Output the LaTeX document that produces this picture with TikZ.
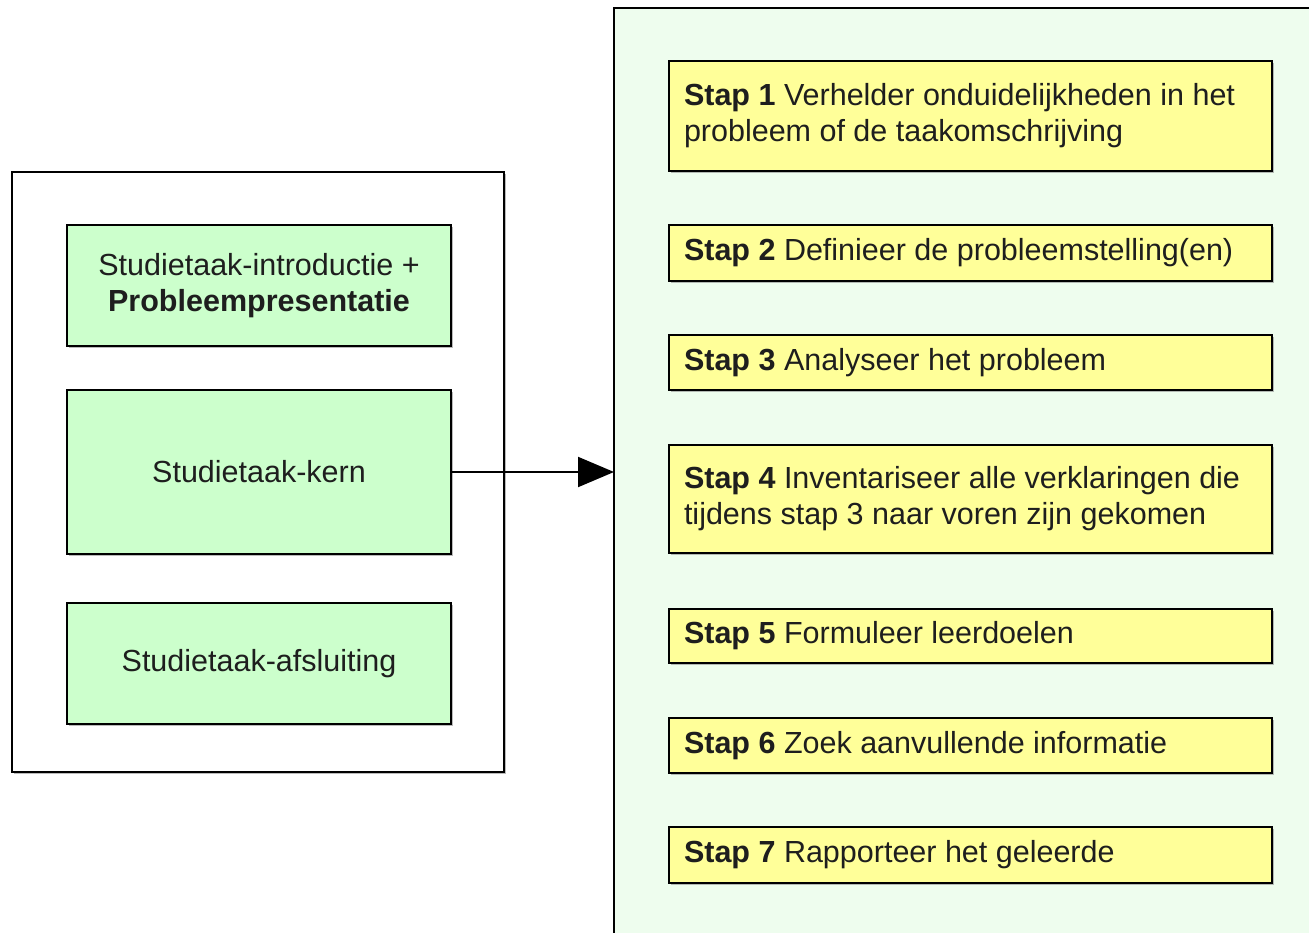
\documentclass[tikz,border=0pt]{standalone}
\usepackage{fontspec}
\setmainfont{Liberation Sans}
\usetikzlibrary{arrows.meta,shadows}
\definecolor{panelbg}{HTML}{EEFDEE}
\definecolor{greenbox}{HTML}{CCFFCC}
\definecolor{yellowbox}{HTML}{FFFF99}
\definecolor{txt}{HTML}{1E1E1E}
\tikzset{
  frame/.style={draw=black, line width=1.6pt, outer sep=0pt, inner sep=0pt,
    drop shadow={shadow xshift=1.5pt, shadow yshift=-2pt, fill=black!45, opacity=0.6}},
  phase/.style={frame, fill=greenbox, minimum width=384pt, text=txt,
    align=center, font=\fontsize{30.5}{36}\selectfont},
  stepbox/.style={frame, fill=yellowbox, text width=573pt, inner xsep=15pt,
    align=flush left, text=txt, font=\fontsize{30.5}{36}\selectfont},
  link/.style={draw=black, line width=2pt, -{Triangle[length=36pt,width=30pt]}}
}
\begin{document}
\begin{tikzpicture}[x=1pt, y=-1pt]
\useasboundingbox (0,0) rectangle (1309,933);
\fill[white] (0,0) rectangle (1309,933);
% right panel holding the seven steps
\node[frame, fill=panelbg, minimum width=716pt, minimum height=952pt] (panel) at (972,484) {};
% left frame with the three phases
\node[frame, fill=white, minimum width=492pt, minimum height=600pt] (outer) at (258,472) {};
\node[phase, minimum height=121pt] (intro) at (259,285.5) {Studietaak-introductie +\\\textbf{Probleempresentatie}};
\node[phase, minimum height=164pt] (kern) at (259,472) {Studietaak-kern};
\node[phase, minimum height=121pt] (afsl) at (259,663.5) {Studietaak-afsluiting};
% steps
\node[stepbox, minimum height=110pt] (s1) at (970.5,116) {\textbf{Stap 1} Verhelder onduidelijkheden in het\\probleem of de taakomschrijving};
\node[stepbox, minimum height=56pt] (s2) at (970.5,253) {\textbf{Stap 2} Definieer de probleemstelling(en)};
\node[stepbox, minimum height=55pt] (s3) at (970.5,362.5) {\textbf{Stap 3} Analyseer het probleem};
\node[stepbox, minimum height=108pt] (s4) at (970.5,499) {\textbf{Stap 4} Inventariseer alle verklaringen die\\tijdens stap 3 naar voren zijn gekomen};
\node[stepbox, minimum height=54pt] (s5) at (970.5,636) {\textbf{Stap 5} Formuleer leerdoelen};
\node[stepbox, minimum height=55pt] (s6) at (970.5,745.5) {\textbf{Stap 6} Zoek aanvullende informatie};
\node[stepbox, minimum height=56pt] (s7) at (970.5,855) {\textbf{Stap 7} Rapporteer het geleerde};
% connector from the core phase to the steps
\draw[link] (kern.east) -- (kern.east -| panel.west);
\end{tikzpicture}
\end{document}
